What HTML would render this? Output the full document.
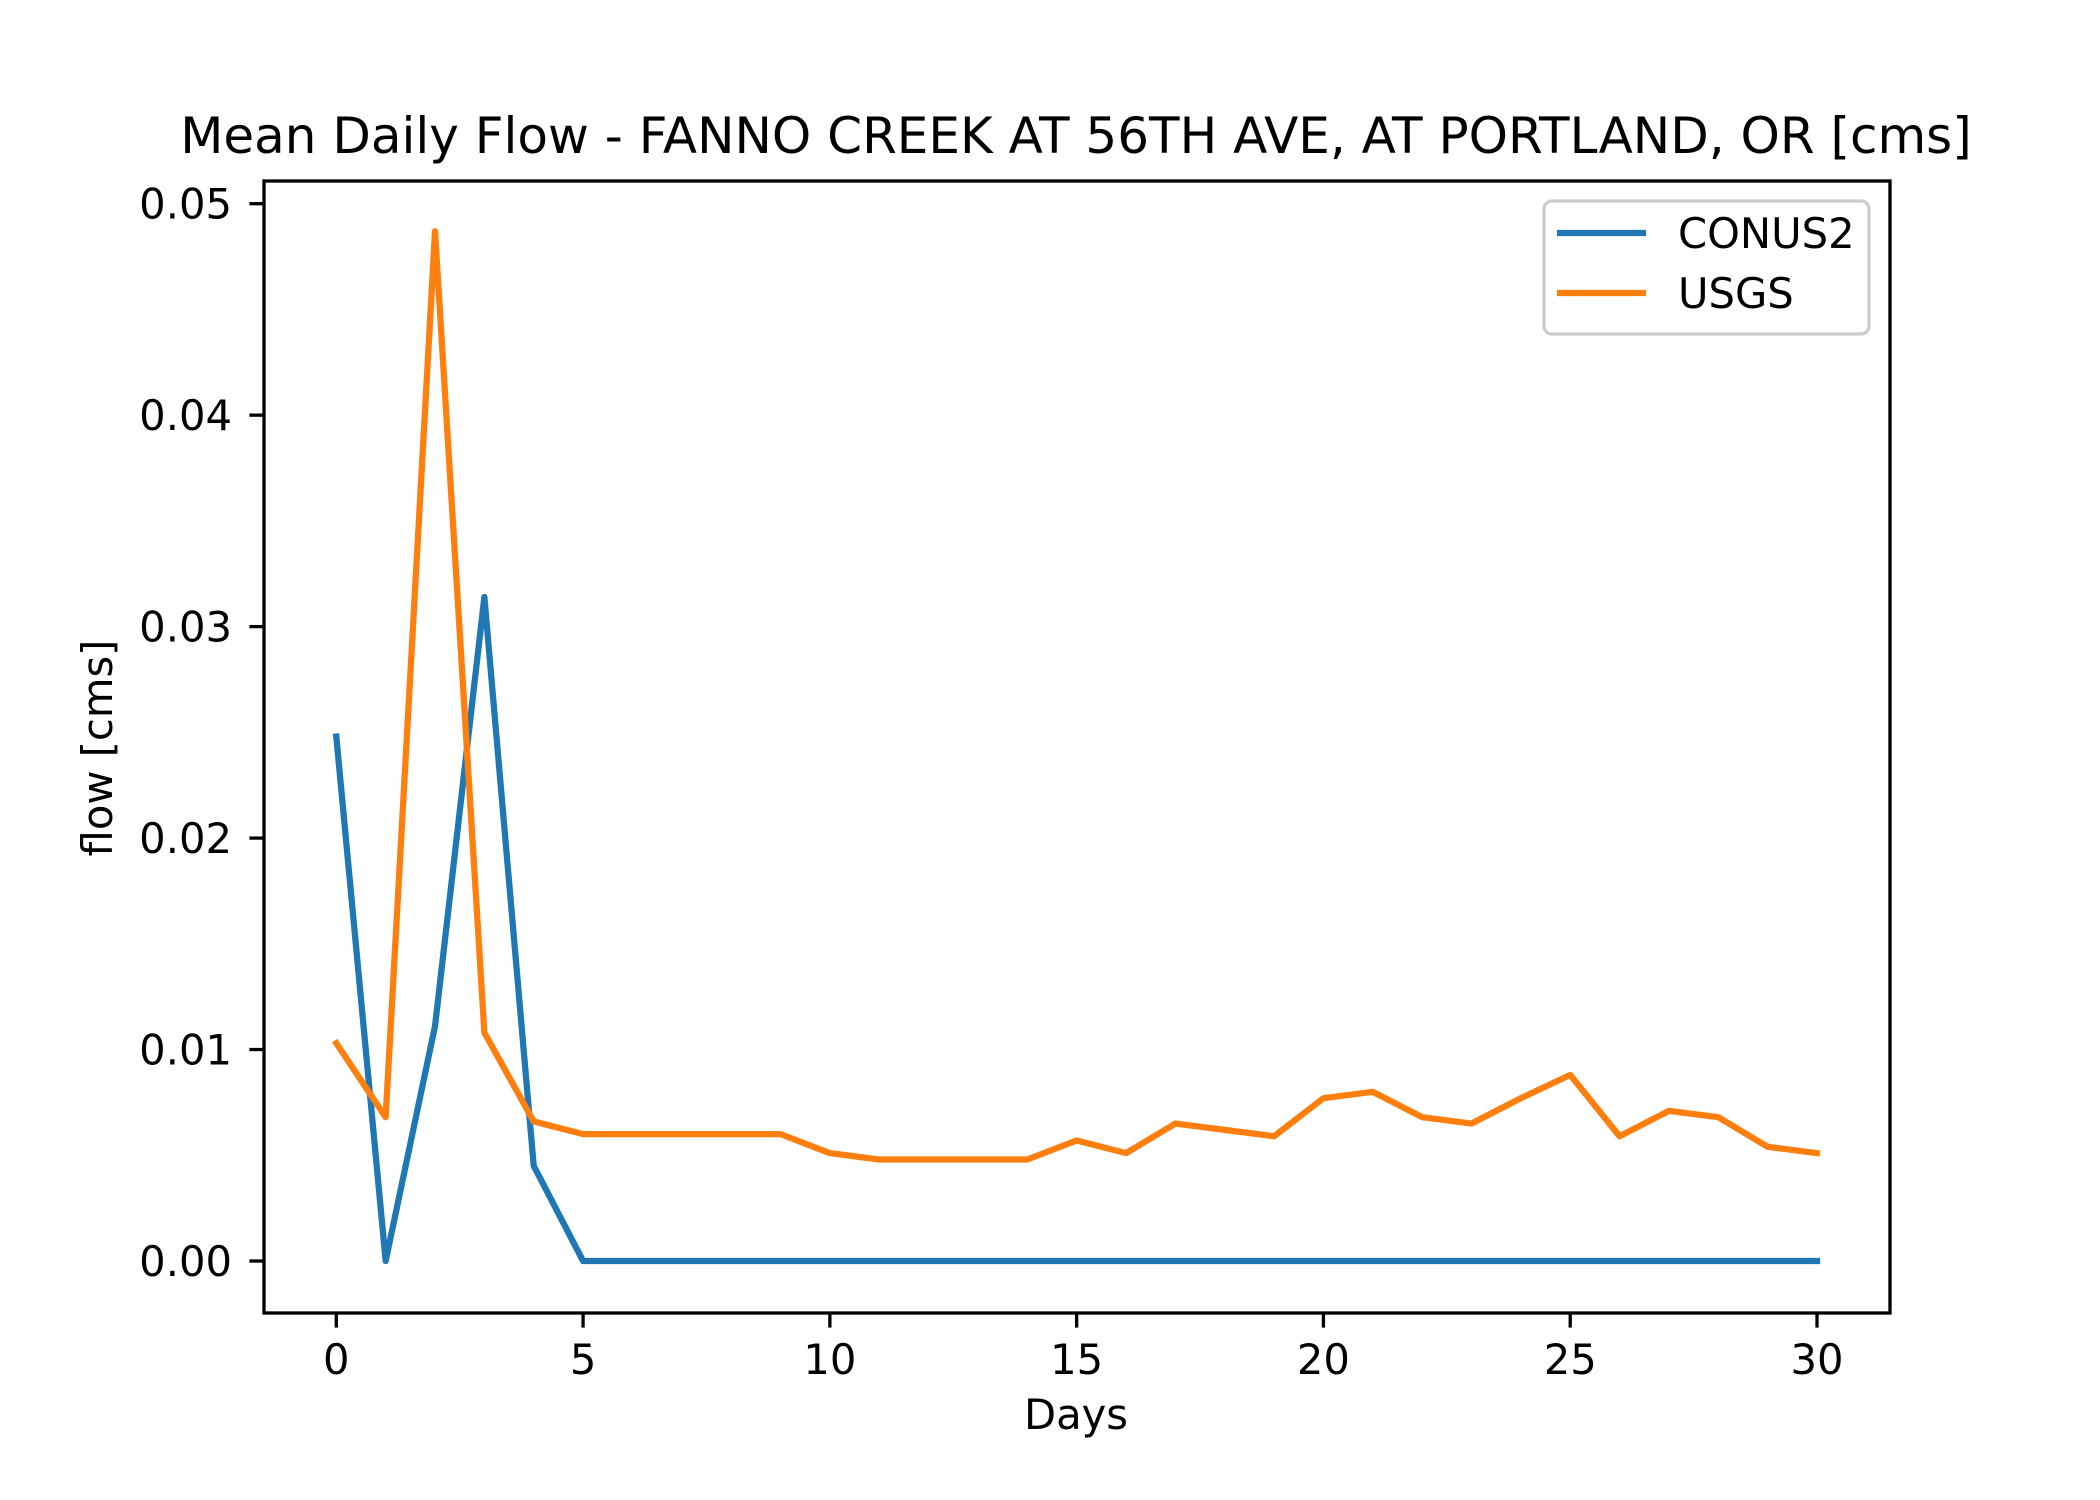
<!DOCTYPE html>
<html><head><meta charset="utf-8"><style>
html,body{margin:0;padding:0;background:#fff;}
svg{display:block;font-family:"DejaVu Sans","Liberation Sans",sans-serif;}
</style></head><body>
<svg id="chart" width="2100" height="1500" viewBox="0 0 2100 1500" xmlns="http://www.w3.org/2000/svg">
<rect width="2100" height="1500" fill="#fff"/>
<text x="1076" y="153" font-size="50" text-anchor="middle" fill="#000">Mean Daily Flow - FANNO CREEK AT 56TH AVE, AT PORTLAND, OR [cms]</text>
<g id="plot"></g>
<rect x="264" y="181" width="1626" height="1132" fill="none" stroke="#000" stroke-width="3.3"/>
<text x="1076" y="1429" font-size="41.7" text-anchor="middle">Days</text>
<text transform="translate(112,748) rotate(-90)" font-size="41.7" text-anchor="middle">flow [cms]</text>
<g>
<rect x="1544" y="201" width="325" height="133" rx="8" fill="#fff" fill-opacity="0.8" stroke="#ccc" stroke-width="3.3"/>
<line x1="1557" y1="233" x2="1646" y2="233" stroke="#1f77b4" stroke-width="6.25"/>
<text x="1678" y="248" font-size="41.7">CONUS2</text>
<line x1="1557" y1="293" x2="1646" y2="293" stroke="#ff7f0e" stroke-width="6.25"/>
<text x="1678" y="308" font-size="41.7">USGS</text>
</g>
</svg>
<script>
const days = Array.from({length:31},(_, i)=>i);
const conus2 = [0.0248,0,0.0111,0.0314,0.0045,0,0,0,0,0,0,0,0,0,0,0,0,0,0,0,0,0,0,0,0,0,0,0,0,0,0];
const usgs = [0.0103,0.0068,0.0487,0.0108,0.0066,0.0060,0.0060,0.0060,0.0060,0.0060,0.0051,0.0048,0.0048,0.0048,0.0048,0.0057,0.0051,0.0065,0.0062,0.0059,0.0077,0.0080,0.0068,0.0065,0.0077,0.0088,0.0059,0.0071,0.0068,0.0054,0.0051];
const xTicks = [0,5,10,15,20,25,30];
const yTicks = [0,0.01,0.02,0.03,0.04,0.05];
const yTickLabels = ["0.00","0.01","0.02","0.03","0.04","0.05"];
const NS="http://www.w3.org/2000/svg";
const xs = d => 336.3 + d*(1817-336.3)/30;
const ys = v => 1261 - v*(1261-203.7)/0.05;
const g = document.getElementById('plot');
function mk(t,a){const e=document.createElementNS(NS,t);for(const k in a)e.setAttribute(k,a[k]);g.appendChild(e);return e;}
xTicks.forEach(t=>{
  const l=mk('line',{x1:xs(t),x2:xs(t),y1:1313,y2:1327.6,stroke:'#000','stroke-width':3.3});
  
  
  const tx=mk('text',{x:xs(t),y:1374,'font-size':41.7,'text-anchor':'middle'});
  tx.textContent=t;
  
  
});
yTicks.forEach((t,i)=>{
  const l=mk('line',{x1:249.4,x2:264,y1:ys(t),y2:ys(t),stroke:'#000','stroke-width':3.3});
  
  
  const tx=mk('text',{x:232,y:ys(t)+15,'font-size':41.7,'text-anchor':'end'});
  tx.textContent=yTickLabels[i];
  
  
});
function series(vals,color,name){
  const p=mk('polyline',{points:vals.map((v,i)=>xs(days[i])+','+ys(v)).join(' '),fill:'none',stroke:color,'stroke-width':6.25,'stroke-linejoin':'round','stroke-linecap':'square'});
  
  
}
series(conus2,'#1f77b4','conus2-line');
series(usgs,'#ff7f0e','usgs-line');
</script>
</body></html>
